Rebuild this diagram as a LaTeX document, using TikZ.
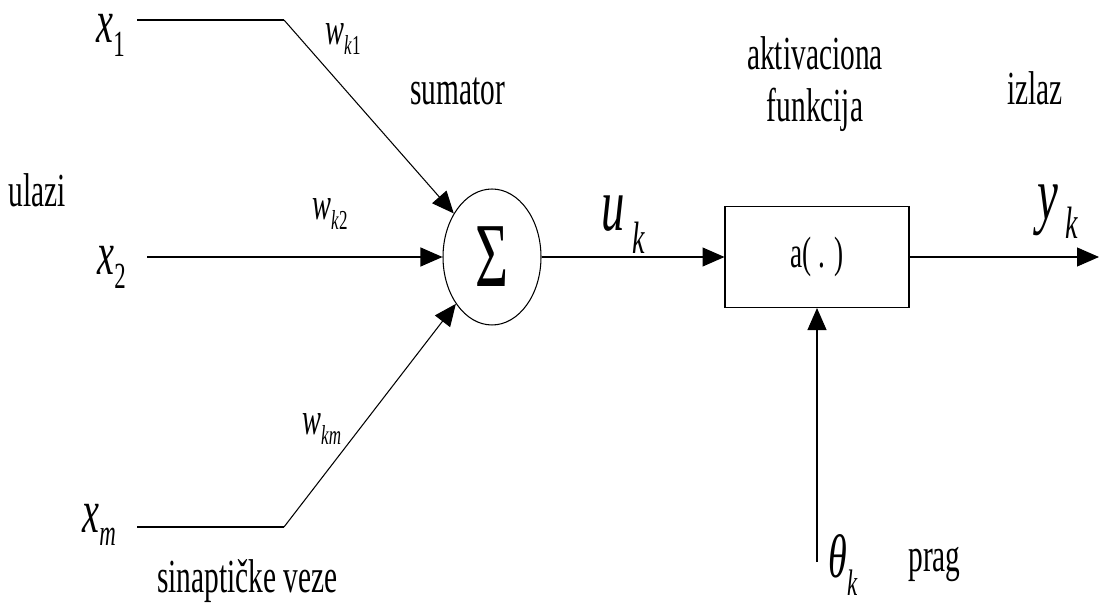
\documentclass[tikz,border=0pt]{standalone}
\usepackage{fontspec}
\usepackage{graphicx}
\setmainfont[FakeStretch=0.62]{Liberation Serif}
\usetikzlibrary{arrows.meta, positioning, shapes.geometric}

\newcommand{\var}[3][0.25em]{\textit{#2}\raisebox{-#1}{\scalebox{0.6}{#3}}}

\begin{document}
\begin{tikzpicture}[x=0.02cm, y=-0.02cm,
  every node/.style={inner sep=0pt},
  lbl/.style={font=\fontsize{27}{25}\selectfont, anchor=base west},
  big/.style={font=\fontsize{35}{40}\selectfont, anchor=base west},
  wt/.style={font=\fontsize{26}{28}\selectfont, anchor=base west},
  link/.style={line width=0.6pt},
  arr/.style={link, -{Triangle[length=0.44cm, width=0.38cm]}}]
  \useasboundingbox (0,0) rectangle (1099,604);

  % neuron
  \node[draw, ellipse, line width=0.6pt, minimum width=1.96cm, minimum height=2.72cm,
        font=\fontsize{52}{54}\selectfont] (sum) at (492,257) {\raisebox{-0.12em}{Σ}};
  \node[draw, rectangle, line width=0.6pt, minimum width=3.68cm, minimum height=2.02cm,
        font=\fontsize{25}{26}\selectfont] (act) at (817,257) {\raisebox{-0.1em}{a( . )}};

  % inputs
  \node[big] (x1) at (96,43) {\var[0.22em]{x}{1}};
  \node[big] (x2) at (97,275) {\var[0.22em]{x}{2}};
  \node[big] (xm) at (82,532) {\var[0.22em]{x}{\textit{m}}};
  \coordinate (s1) at (137,20);
  \coordinate (b1) at (284,20);
  \coordinate (s2) at (147,257);
  \coordinate (sm) at (137,527);
  \coordinate (bm) at (284,527);
  \draw[link] (s1) -- (b1);
  \draw[arr] (b1) -- (sum);
  \draw[arr] (s2) -- (sum);
  \draw[link] (sm) -- (bm);
  \draw[arr] (bm) -- (sum);

  % weights
  \node[wt] (w1) at (325,45) {\var[0.2em]{w}{\textit{k}1}};
  \node[wt] (w2) at (312,220) {\var[0.2em]{w}{\textit{k}2}};
  \node[wt] (wm) at (302,435) {\var[0.2em]{w}{\textit{km}}};

  % output side
  \coordinate (out) at (1099,257);
  \coordinate (pr) at (817,562);
  \draw[arr] (sum) -- (act);
  \draw[arr] (act) -- (out);
  \draw[arr] (pr) -- (act);
  \node[big, font=\fontsize{43}{44}\selectfont] (uk) at (601,231) {\var[0.3em]{u}{\,\textit{k}}};
  \node[big, font=\fontsize{43}{44}\selectfont] (yk) at (1037,220) {\var[0.25em]{y}{\,\textit{k}}};
  \node[big, font=\fontsize{35}{36}\selectfont] (tk) at (828,577) {\var[0.3em]{θ}{\textit{k}}};

  % captions
  \node[lbl] (ulazi) at (8,207) {ulazi};
  \node[lbl] (sumator) at (410,105) {sumator};
  \node[lbl, align=center, anchor=center] (akt) at (815,84) {aktivaciona\\[5pt]funkcija};
  \node[lbl] (izlaz) at (1007,105) {izlaz};
  \node[lbl] (veze) at (157,592) {sinaptičke veze};
  \node[lbl] (prag) at (908,571) {prag};
\end{tikzpicture}
\end{document}
